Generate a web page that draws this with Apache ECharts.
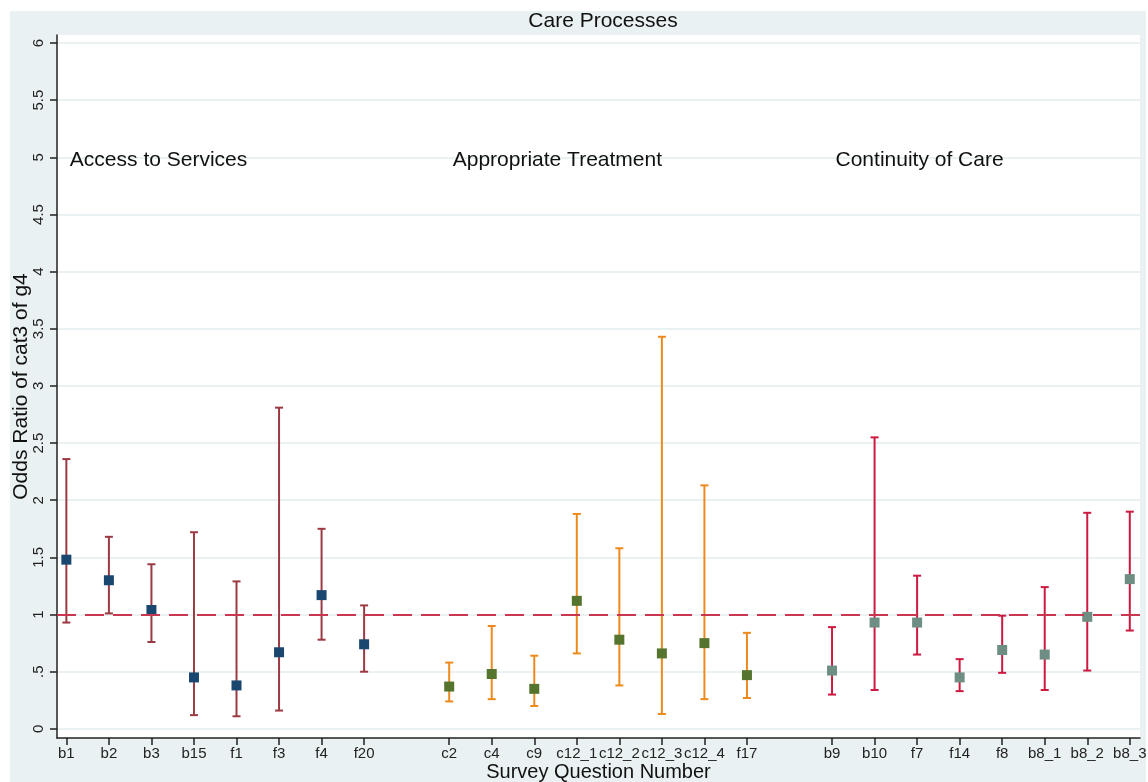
<!DOCTYPE html>
<html>
<head>
<meta charset="utf-8">
<script src="https://cdn.jsdelivr.net/npm/echarts@6/dist/echarts.min.js"></script>
<style>
html,body{margin:0;padding:0;background:#fff;}
#chart{width:1148px;height:782px;}
</style>
</head>
<body>
<div id="chart"></div>
<script>
// ---- data ----
const group1Labels = ['b1','b2','b3','b15','f1','f3','f4','f20'];
const group1OR     = [1.48,1.30,1.04,0.45,0.38,0.67,1.17,0.74];
const group1Lo     = [0.93,1.01,0.76,0.12,0.11,0.16,0.78,0.50];
const group1Hi     = [2.36,1.68,1.44,1.72,1.29,2.81,1.75,1.08];

const group2Labels = ['c2','c4','c9','c12_1','c12_2','c12_3','c12_4','f17'];
const group2OR     = [0.37,0.48,0.35,1.12,0.78,0.66,0.75,0.47];
const group2Lo     = [0.24,0.26,0.20,0.66,0.38,0.13,0.26,0.27];
const group2Hi     = [0.58,0.90,0.64,1.88,1.58,3.43,2.13,0.84];

const group3Labels = ['b9','b10','f7','f14','f8','b8_1','b8_2','b8_3'];
const group3OR     = [0.51,0.93,0.93,0.45,0.69,0.65,0.98,1.31];
const group3Lo     = [0.30,0.34,0.65,0.33,0.49,0.34,0.51,0.86];
const group3Hi     = [0.89,2.55,1.34,0.61,0.99,1.24,1.89,1.90];

const groupTitles  = ['Access to Services','Appropriate Treatment','Continuity of Care'];
const yTicks       = [0,0.5,1,1.5,2,2.5,3,3.5,4,4.5,5,5.5,6];
const yTickLabels  = ['0','.5','1','1.5','2','2.5','3','3.5','4','4.5','5','5.5','6'];
const referenceOR  = 1;
const annotationY  = 5;

// ---- build ----
const groups = [
  {labels: group1Labels, or: group1OR, lo: group1Lo, hi: group1Hi, marker:'#1a476f', bar:'#9b3a42'},
  {labels: group2Labels, or: group2OR, lo: group2Lo, hi: group2Hi, marker:'#55752f', bar:'#ee8a1c'},
  {labels: group3Labels, or: group3OR, lo: group3Lo, hi: group3Hi, marker:'#6e8e84', bar:'#cc1a40'}
];
// each group occupies consecutive slots, separated by one empty slot
let slot = 0;
const tickPos = [], tickText = {};
const groupStart = [];
groups.forEach(g => {
  groupStart.push(slot);
  g.pos = g.labels.map((l, i) => { const p = slot + i; tickPos.push(p); tickText[p] = l; return p; });
  slot += g.labels.length + 1;
});

const FONT = '"Liberation Sans", Arial, Helvetica, sans-serif';

function errorBarRenderer(color) {
  return function (params, api) {
    const x = api.value(0), lo = api.value(1), hi = api.value(2);
    const pLo = api.coord([x, lo]);
    const pHi = api.coord([x, hi]);
    const hw = 4;
    const style = {stroke: color, lineWidth: 2, fill: null};
    return {
      type: 'group',
      children: [
        {type:'line', shape:{x1:pLo[0], y1:pLo[1], x2:pHi[0], y2:pHi[1]}, style: style},
        {type:'line', shape:{x1:pHi[0]-hw, y1:pHi[1], x2:pHi[0]+hw, y2:pHi[1]}, style: style},
        {type:'line', shape:{x1:pLo[0]-hw, y1:pLo[1], x2:pLo[0]+hw, y2:pLo[1]}, style: style}
      ]
    };
  };
}

const series = [];
// reference line
series.push({
  type: 'line', data: [], silent: true, z: 1,
  markLine: {
    silent: true, symbol: ['none','none'], label: {show:false},
    lineStyle: {color:'#c8364f', width:2, type:[19,9], opacity: 1},
    data: [{yAxis: referenceOR}]
  }
});
groups.forEach((g, gi) => {
  series.push({
    type: 'custom', z: 2,
    renderItem: errorBarRenderer(g.bar),
    encode: {x: 0, y: [1, 2]},
    data: g.pos.map((p, i) => [p, g.lo[i], g.hi[i]])
  });
  series.push({
    type: 'scatter', z: 3,
    symbol: 'rect', symbolSize: 10,
    itemStyle: {color: g.marker, opacity: 1},
    data: g.pos.map((p, i) => [p, g.or[i]])
  });
});
// group annotations
series.push({
  type: 'scatter', z: 4, symbolSize: 1, itemStyle: {color: 'rgba(0,0,0,0)', opacity: 1},
  label: {
    show: true, position: 'right', distance: 3, offset: [0, 3],
    formatter: p => groupTitles[p.dataIndex],
    fontFamily: FONT, fontSize: 21, color: '#111'
  },
  data: groupStart.map(s => [s, annotationY])
});

const chart = echarts.init(document.getElementById('chart'), null, {renderer: 'canvas'});
chart.setOption({
  animation: false,
  backgroundColor: '#fff',
  textStyle: {fontFamily: FONT},
  graphic: [{
    type: 'rect', z: -10, silent: true,
    shape: {x: 10, y: 11, width: 1136, height: 771},
    style: {fill: '#eaf1f2'}
  }],
  title: {
    text: 'Care Processes',
    left: 598, top: 6, textAlign: 'center',
    textStyle: {fontFamily: FONT, fontSize: 21, fontWeight: 'normal', color: '#111'}
  },
  grid: {
    left: 57, top: 35, right: 8, bottom: 44,
    show: true, backgroundColor: '#fff', borderWidth: 0,
    containLabel: false, outerBoundsMode: 'none'
  },
  xAxis: {
    type: 'value', min: -0.22, max: 25.24,
    name: 'Survey Question Number', nameLocation: 'middle', nameGap: 24, nameMoveOverlap: false,
    nameTextStyle: {fontFamily: FONT, fontSize: 20, color: '#111'},
    axisLine: {show: true, onZero: false, lineStyle: {color: '#222', width: 1.5}},
    axisTick: {show: true, length: 7, customValues: tickPos, lineStyle: {color: '#222', width: 1.5}},
    axisLabel: {
      customValues: tickPos, margin: 8,
      fontFamily: FONT, fontSize: 15, color: '#222',
      formatter: v => tickText[Math.round(v)] || ''
    },
    splitLine: {show: false}
  },
  yAxis: {
    type: 'value', min: -0.08, max: 6.07,
    name: 'Odds Ratio of cat3 of g4', nameLocation: 'middle', nameGap: 25, nameMoveOverlap: false,
    nameTextStyle: {fontFamily: FONT, fontSize: 21, color: '#111'},
    axisLine: {show: true, onZero: false, lineStyle: {color: '#222', width: 1.5}},
    axisTick: {show: true, length: 7, customValues: yTicks, lineStyle: {color: '#222', width: 1.5}},
    axisLabel: {
      customValues: yTicks, rotate: 90, margin: 11,
      fontFamily: FONT, fontSize: 15, color: '#222',
      formatter: v => { const i = yTicks.indexOf(v); return i >= 0 ? yTickLabels[i] : ''; }
    },
    splitLine: {show: true, lineStyle: {color: '#eaf1f2', width: 2}}
  },
  series: series
});
</script>
</body>
</html>
